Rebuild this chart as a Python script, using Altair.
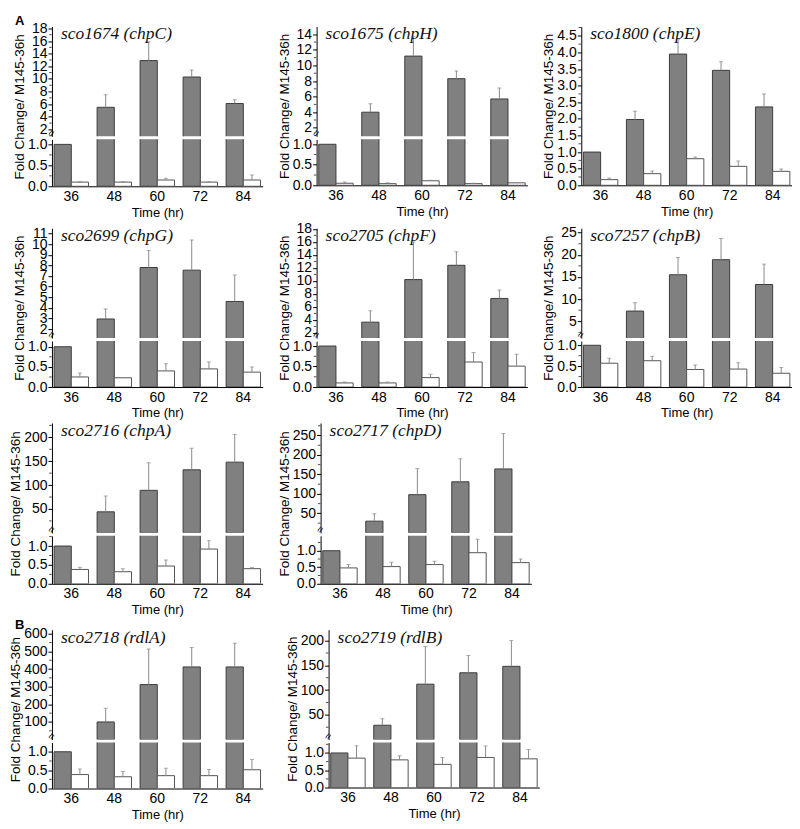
import altair as alt
import pandas as pd

times = [36, 48, 60, 72, 84]
genes = ["sco1674 (chpC)", "sco1675 (chpH)", "sco1800 (chpE)",
         "sco2699 (chpG)", "sco2705 (chpF)", "sco7257 (chpB)",
         "sco2716 (chpA)", "sco2717 (chpD)",
         "sco2718 (rdlA)", "sco2719 (rdlB)"]

# grey bars (mean) and top of their error bars
gray_mean = [
    [1.0, 5.5, 12.9, 10.3, 6.1],
    [1.0, 4.0, 11.2, 8.3, 5.7],
    [1.0, 1.98, 3.95, 3.46, 2.36],
    [1.0, 2.95, 7.8, 7.55, 4.6],
    [1.0, 3.65, 10.2, 12.4, 7.3],
    [1.0, 7.3, 15.5, 18.9, 13.3],
    [1.0, 44, 89, 132, 148],
    [1.0, 30, 98, 131, 164],
    [1.0, 100, 312, 412, 412],
    [1.0, 29, 112, 135, 148],
]
gray_top = [
    [1.0, 7.5, 15.9, 11.4, 6.7],
    [1.0, 5.1, 13.7, 9.3, 7.1],
    [1.0, 2.23, 4.38, 3.72, 2.75],
    [1.0, 3.9, 9.4, 10.4, 7.1],
    [1.0, 5.4, 16.0, 14.5, 8.6],
    [1.0, 9.2, 19.4, 23.7, 17.9],
    [1.0, 77, 147, 177, 206],
    [1.0, 49, 165, 190, 255],
    [1.0, 177, 514, 522, 547],
    [1.0, 42, 188, 170, 200],
]
# white bars (mean) and top of their error bars
white_mean = [
    [0.10, 0.10, 0.15, 0.10, 0.15],
    [0.05, 0.04, 0.11, 0.04, 0.06],
    [0.17, 0.35, 0.80, 0.57, 0.42],
    [0.25, 0.23, 0.40, 0.45, 0.37],
    [0.10, 0.10, 0.23, 0.61, 0.51],
    [0.57, 0.63, 0.42, 0.43, 0.33],
    [0.38, 0.32, 0.47, 0.92, 0.40],
    [0.48, 0.52, 0.58, 0.94, 0.64],
    [0.38, 0.32, 0.35, 0.35, 0.51],
    [0.85, 0.80, 0.67, 0.87, 0.83],
]
white_top = [
    [0.11, 0.11, 0.19, 0.11, 0.27],
    [0.08, 0.06, 0.12, 0.05, 0.06],
    [0.22, 0.43, 0.85, 0.73, 0.49],
    [0.35, 0.23, 0.58, 0.62, 0.50],
    [0.12, 0.12, 0.31, 0.84, 0.80],
    [0.69, 0.74, 0.53, 0.58, 0.47],
    [0.44, 0.40, 0.63, 1.15, 0.43],
    [0.58, 0.65, 0.68, 1.35, 0.75],
    [0.53, 0.46, 0.55, 0.52, 0.79],
    [1.21, 0.92, 0.87, 1.20, 1.10],
]

# axis segments (None = unbroken axis)
upper_domain = [[0.9, 18.3], [0.9, 15.0], None, [1.15, 11.5], [1.2, 18.1],
                [1.2, 26.0], [0, 230], [0, 282], [0, 623], [0, 222]]
upper_ticks = [
    [2, 4, 6, 8, 10, 12, 14, 16, 18],
    [2, 4, 6, 8, 10, 12, 14],
    [0, 0.5, 1.0, 1.5, 2.0, 2.5, 3.0, 3.5, 4.0, 4.5],
    [2, 3, 4, 5, 6, 7, 8, 9, 10, 11],
    [2, 4, 6, 8, 10, 12, 14, 16, 18],
    [5, 10, 15, 20, 25],
    [50, 100, 150, 200],
    [50, 100, 150, 200, 250],
    [100, 200, 300, 400, 500, 600],
    [50, 100, 150, 200],
]
lower_max = [1.12, 1.12, None, 1.14, 1.12, 1.1, 1.27, 1.45, 1.25, 1.3]
lower_ticks = [0, 0.5, 1.0]
single_domain = [0, 4.78]
panel_letters = {0: "A", 8: "B"}

FONT = "Liberation Sans"
GRAY = "#808080"
GSTROKE = "#3c3c3c"
WSTROKE = "#555555"
ERR = "#8a8a8a"
W = 211
UH = 110
GAP = 3
LH = [47, 46, None, 46, 46, 46, 48, 48, 46, 45]
YTITLE = "Fold Change/ M145-36h"


def minor_of(ticks, lo, hi):
    step = ticks[1] - ticks[0]
    cand = [ticks[0] - step / 2] + [t + step / 2 for t in ticks]
    return [c for c in cand if lo < c < hi]


def make_df(i):
    rows = []
    for j, t in enumerate(times):
        rows.append(dict(time=t, series="g", mean=gray_mean[i][j], top=gray_top[i][j], base=0.0))
        rows.append(dict(time=t, series="w", mean=white_mean[i][j], top=white_top[i][j], base=0.0))
    return pd.DataFrame(rows)


xoff = alt.XOffset("series:N", scale=alt.Scale(domain=["g", "w"], paddingInner=0, paddingOuter=0))
fill = alt.Color("series:N", scale=alt.Scale(domain=["g", "w"], range=[GRAY, "white"]), legend=None)
stroke = alt.Stroke("series:N", scale=alt.Scale(domain=["g", "w"], range=[GSTROKE, WSTROKE]), legend=None)


def segment(df, domain, ticks, minors, height, show_x, bar_filter, err_filter,
            fmt=None, title=None, ytitle=None, letter=None, brk=False):
    xscale = alt.Scale(domain=times, paddingInner=0.2, paddingOuter=0.05)
    if show_x:
        xaxis = alt.Axis(title="Time (hr)", labelAngle=0, ticks=False, labelPadding=3,
                         titleFontSize=13, titleFontWeight="normal", titlePadding=3)
    else:
        xaxis = None
    yscale = alt.Scale(domain=domain, nice=False, zero=False)
    ykw = dict(values=ticks, labelOverlap=False)
    if ytitle is not None:
        ykw.update(title=YTITLE, titleFontSize=13.5, titleFontWeight="normal", **ytitle)
    else:
        ykw["title"] = None
    if fmt:
        ykw["format"] = fmt
    yaxis = alt.Axis(**ykw)

    def X():
        return alt.X("time:O", scale=xscale, axis=xaxis)

    def Y(f):
        return alt.Y(f, scale=yscale, axis=yaxis)

    base = alt.Chart(df)
    bars = base
    if bar_filter:
        bars = bars.transform_filter(bar_filter)
    bars = bars.mark_bar(clip=True, strokeWidth=1).encode(
        x=X(), xOffset=xoff, y=Y("mean:Q"), y2="base:Q", fill=fill, stroke=stroke)
    eb = base.transform_filter(err_filter)
    rule = eb.mark_rule(color=ERR, strokeWidth=1, clip=True).encode(
        x=X(), xOffset=xoff, y=Y("mean:Q"), y2="top:Q")
    cap = eb.mark_tick(color=ERR, size=4, thickness=1, clip=True).encode(
        x=X(), xOffset=xoff, y=Y("top:Q"))
    layers = [bars, rule, cap]
    if minors:
        mt = alt.Chart(pd.DataFrame({"v": minors})).mark_tick(
            color="black", size=2.5, thickness=1).encode(y=Y("v:Q"), x=alt.value(-1.5))
        layers.append(mt)
    if title:
        tt = alt.Chart(pd.DataFrame({"t": [title]})).mark_text(
            align="left", baseline="top", font="Liberation Serif", fontStyle="italic",
            fontSize=17.5, color="#111").encode(x=alt.value(9), y=alt.value(-1), text="t:N")
        layers.append(tt)
    if letter:
        lt = alt.Chart(pd.DataFrame({"t": [letter]})).mark_text(
            align="left", baseline="top", font=FONT, fontWeight="bold",
            fontSize=13, color="black").encode(x=alt.value(-37), y=alt.value(-11), text="t:N")
        layers.append(lt)
    if brk:
        bt = alt.Chart(pd.DataFrame({"t": ["≈"]})).mark_text(
            align="center", baseline="middle", font=FONT, fontSize=11, angle=300,
            color="black").encode(x=alt.value(0), y=alt.value(height - 3), text="t:N")
        layers.append(bt)
    return alt.layer(*layers).properties(width=W, height=height)


def panel(i):
    df = make_df(i)
    letter = panel_letters.get(i)
    if upper_domain[i] is None:
        d = single_domain
        h = UH + GAP + 46
        return segment(df, d, upper_ticks[i], minor_of(upper_ticks[i], d[0], d[1]),
                       h, True, None, "datum.top > datum.mean", fmt=".1f",
                       title=genes[i], ytitle=dict(titlePadding=1), letter=letter)
    lm = lower_max[i]
    ud = upper_domain[i]
    total = UH + GAP + LH[i]
    wide = max(len(str(t)) for t in upper_ticks[i]) >= 3
    up = segment(df, ud, upper_ticks[i], minor_of(upper_ticks[i], ud[0], ud[1]) if i != 3 else None,
                 UH, False, f"datum.mean > {lm}",
                 f"datum.mean > {lm} && datum.top > datum.mean", title=genes[i],
                 letter=letter, brk=True)
    lo = segment(df, [0, lm], lower_ticks, minor_of(lower_ticks, 0, lm), LH[i], True,
                 None, f"datum.mean <= {lm} && datum.top > datum.mean", fmt=".1f",
                 ytitle=dict(titleY=LH[i] - total / 2, titlePadding=5 if wide else 1))
    return alt.vconcat(up, lo, spacing=GAP, bounds="flush")


row1 = alt.hconcat(panel(0), panel(1), panel(2), spacing=14)
row2 = alt.hconcat(panel(3), panel(4), panel(5), spacing=14)
row3 = alt.hconcat(panel(6), panel(7), spacing=14)
row4 = alt.hconcat(panel(8), panel(9), spacing=22)

chart = alt.concat(row1, row2, row3, row4, columns=1, spacing=2, align="none").properties(
    background="white",
    padding={"left": 0, "top": 7, "right": 0, "bottom": 0}
).configure_view(stroke=None).configure_axis(
    domainColor="black", tickColor="black", labelColor="black", titleColor="black",
    labelFont=FONT, titleFont=FONT, labelFontSize=14, tickSize=4, grid=False, labelPadding=1
)

chart.save("out.html", embed_options={"renderer": "svg", "actions": False})
